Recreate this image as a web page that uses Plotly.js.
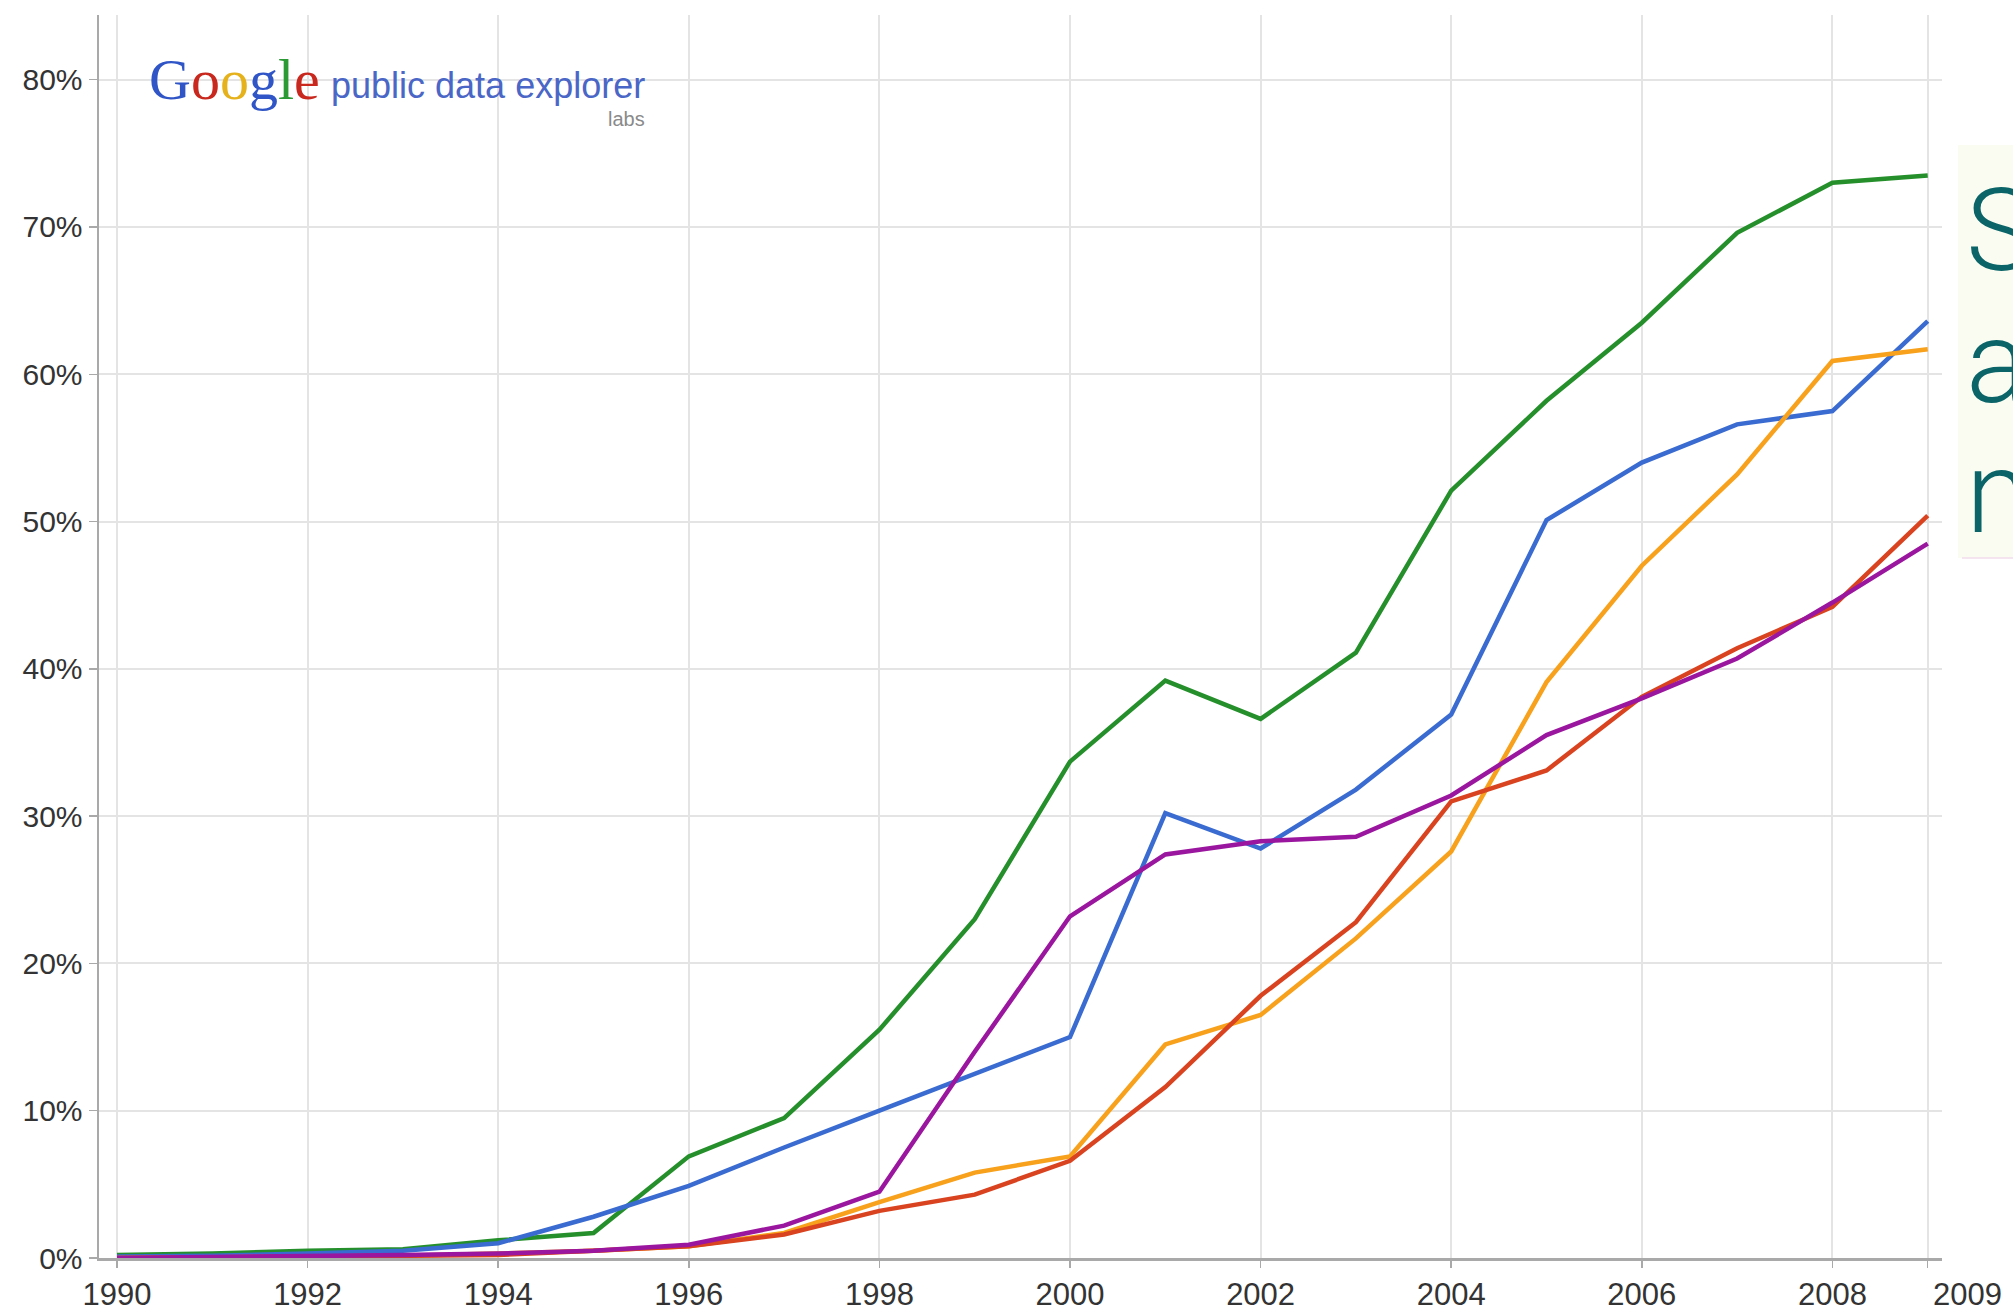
<!DOCTYPE html>
<html>
<head>
<meta charset="utf-8">
<script src="https://cdn.plot.ly/plotly-3.0.1.min.js"></script>
<style>
  html, body { margin: 0; padding: 0; background: #ffffff; }
  #chart { width: 2013px; height: 1312px; }
</style>
</head>
<body>
<div id="chart"></div>
<script>
// ---- data (percent) ----
const years = [1990,1991,1992,1993,1994,1995,1996,1997,1998,1999,2000,2001,2002,2003,2004,2005,2006,2007,2008,2009];

const greenValues  = [0.2, 0.3, 0.5, 0.6, 1.2, 1.7, 6.9, 9.5, 15.5, 23.0, 33.7, 39.2, 36.6, 41.1, 52.1, 58.2, 63.5, 69.6, 73.0, 73.5];
const blueValues   = [0.1, 0.15, 0.3, 0.5, 1.0, 2.8, 4.9, 7.5, 10.0, 12.5, 15.0, 30.2, 27.8, 31.8, 36.9, 50.1, 54.0, 56.6, 57.5, 63.6];
const orangeValues = [0.0, 0.05, 0.1, 0.15, 0.3, 0.5, 0.8, 1.7, 3.8, 5.8, 6.9, 14.5, 16.5, 21.7, 27.6, 39.1, 47.0, 53.2, 60.9, 61.7];
const redValues    = [0.0, 0.05, 0.1, 0.15, 0.2, 0.5, 0.8, 1.6, 3.2, 4.3, 6.6, 11.6, 17.8, 22.8, 31.0, 33.1, 38.1, 41.4, 44.2, 50.4];
const purpleValues = [0.0, 0.05, 0.1, 0.2, 0.3, 0.5, 0.9, 2.2, 4.5, 14.0, 23.2, 27.4, 28.3, 28.6, 31.4, 35.5, 38.0, 40.7, 44.5, 48.5];

const xTickVals = [1990,1992,1994,1996,1998,2000,2002,2004,2006,2008,2009];
const xTickText = ["1990","1992","1994","1996","1998","2000","2002","2004","2006","2008","2009"];
const yTickVals = [0,10,20,30,40,50,60,70,80];
const yTickText = ["0%","10%","20%","30%","40%","50%","60%","70%","80%"];

const sideTextLines = ["S", "a", "n"];

// ---- styling ----
const seriesDefs = [
  { name: "green",  y: greenValues,  color: "#25902b" },
  { name: "blue",   y: blueValues,   color: "#3a6bd0" },
  { name: "orange", y: orangeValues, color: "#f7a11c" },
  { name: "red",    y: redValues,    color: "#d9431f" },
  { name: "purple", y: purpleValues, color: "#9b169e" }
];

const traces = seriesDefs.map(s => ({
  type: "scatter",
  mode: "lines",
  name: s.name,
  x: years,
  y: s.y,
  line: { color: s.color, width: 4.5 },
  hoverinfo: "x+y+name",
  showlegend: false
}));

// the last tick label sits just right of its tick in the reference: draw it as an annotation
const lastIdx = xTickText.length - 1;
const xTickTextShown = xTickText.map((t, i) => i === lastIdx ? "" : t);

// pixel -> paper helpers (plot area: x 99..1942, y 15..1258)
const L = 99, R = 1942, T = 15, B = 1258;
const px = v => (v - L) / (R - L);
const py = v => (B - v) / (B - T);

const tickFont = { family: "Liberation Sans, Arial, sans-serif", size: 31, color: "#333333" };

const googleHtml =
  '<span style="color:#2f55c6">G</span>' +
  '<span style="color:#c8281e">o</span>' +
  '<span style="color:#e6b21c">o</span>' +
  '<span style="color:#2f55c6">g</span>' +
  '<span style="color:#2b9a35">l</span>' +
  '<span style="color:#c8281e">e</span>';

const annotations = [
  { text: googleHtml, xref: "paper", yref: "paper", x: px(147), y: py(80), xanchor: "left", yanchor: "middle",
    showarrow: false, font: { family: "Liberation Serif, DejaVu Serif, serif", size: 58 } },
  { text: "public data explorer", xref: "paper", yref: "paper", x: px(329), y: py(86), xanchor: "left", yanchor: "middle",
    showarrow: false, font: { family: "Liberation Sans, Arial, sans-serif", size: 36, color: "#4a66c6" } },
  { text: "labs", xref: "paper", yref: "paper", x: px(647), y: py(119), xanchor: "right", yanchor: "middle",
    showarrow: false, font: { family: "Liberation Sans, Arial, sans-serif", size: 20, color: "#8a8a8a" } },
  { text: xTickText[lastIdx], xref: "x", yref: "paper", x: xTickVals[lastIdx], xshift: 3, y: py(1294),
    xanchor: "left", yanchor: "middle", showarrow: false, font: tickFont }
];

const sideBaselines = [230, 362, 492];
sideTextLines.forEach((t, i) => {
  annotations.push({
    text: t, xref: "paper", yref: "paper", x: px(1964), y: py(sideBaselines[i]),
    xanchor: "left", yanchor: "middle", showarrow: false,
    font: { family: "Roboto, Open Sans, Liberation Sans, sans-serif", size: 115, color: "#0a6468", weight: 300 }
  });
});

const shapes = [
  // white backdrop of the logo
  { type: "rect", xref: "paper", yref: "paper", x0: px(122), x1: px(668), y0: py(157), y1: py(25),
    fillcolor: "#ffffff", line: { width: 0 }, layer: "between" },
  // pale box behind the cut-off side text
  { type: "rect", xref: "paper", yref: "paper", x0: px(1958), x1: px(2030), y0: py(558), y1: py(145),
    fillcolor: "#fafcf1", line: { width: 0 }, layer: "above" },
  { type: "line", xref: "paper", yref: "paper", x0: px(1962), x1: px(2030), y0: py(558), y1: py(558),
    line: { color: "#f1dcec", width: 1.5 }, layer: "above" }
];

const layout = {
  width: 2013,
  height: 1312,
  margin: { l: L, r: 2013 - R, t: T, b: 1312 - B, pad: 0 },
  paper_bgcolor: "#ffffff",
  plot_bgcolor: "#ffffff",
  showlegend: false,
  xaxis: {
    range: [1989.811, 2009.15],
    tickmode: "array",
    tickvals: xTickVals,
    ticktext: xTickTextShown,
    tickangle: 0,
    showgrid: true,
    gridcolor: "#e4e4e4",
    gridwidth: 2,
    zeroline: false,
    showline: true,
    linecolor: "#a9a9a9",
    linewidth: 3,
    ticks: "outside",
    ticklen: 7,
    tickwidth: 1.5,
    tickcolor: "#a9a9a9",
    tickfont: tickFont,
    automargin: false,
    fixedrange: true
  },
  yaxis: {
    range: [0, 84.39],
    tickmode: "array",
    tickvals: yTickVals,
    ticktext: yTickText,
    showgrid: true,
    gridcolor: "#e4e4e4",
    gridwidth: 2,
    zeroline: false,
    showline: true,
    linecolor: "#a9a9a9",
    linewidth: 2.5,
    ticks: "outside",
    ticklen: 8,
    tickwidth: 1.5,
    tickcolor: "#a9a9a9",
    tickfont: { family: "Liberation Sans, Arial, sans-serif", size: 30, color: "#333333" },
    automargin: false,
    fixedrange: true
  },
  annotations: annotations,
  shapes: shapes
};

Plotly.newPlot("chart", traces, layout, { displayModeBar: false, staticPlot: true });
</script>
</body>
</html>
